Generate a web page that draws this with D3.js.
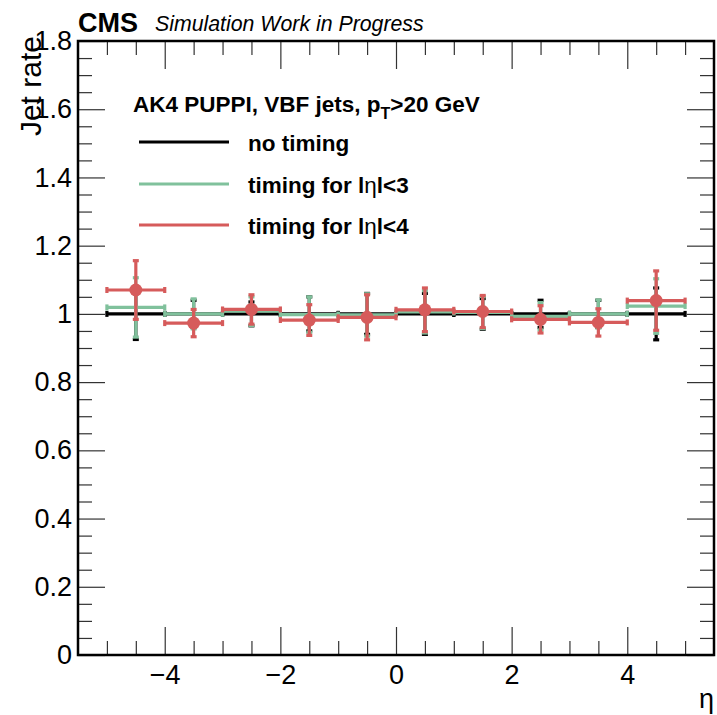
<!DOCTYPE html>
<html><head><meta charset="utf-8">
<script src="https://cdn.jsdelivr.net/npm/d3@7"></script>
<style>
body{margin:0;background:#fff;}
svg{display:block;font-family:"Liberation Sans",Arial,Helvetica,sans-serif;}
</style></head>
<body><svg id="c" width="717" height="715"></svg>
<script>
const etaCenters = [-4.5,-3.5,-2.5,-1.5,-0.5,0.5,1.5,2.5,3.5,4.5];
const binHalfWidth = 0.5;
const noTiming     = [1,1,1,1,1,1,1,1,1,1];
const noTimingErr  = [0.075,0.040,0.035,0.050,0.060,0.060,0.045,0.040,0.040,0.076];
const timing3      = [1.019,1.000,1.008,0.998,0.997,1.006,1.004,0.993,1.000,1.023];
const timing3Err   = [0.087,0.044,0.042,0.052,0.062,0.062,0.047,0.040,0.041,0.080];
const timing4      = [1.070,0.973,1.013,0.982,0.990,1.012,1.007,0.984,0.975,1.039];
const timing4Err   = [0.086,0.040,0.043,0.045,0.066,0.064,0.047,0.040,0.040,0.087];
const xTicks = [-4,-2,0,2,4];
const yTicks = [0,0.2,0.4,0.6,0.8,1,1.2,1.4,1.6,1.8];
const seriesNames = ["no timing","timing for |η|<3","timing for |η|<4"];
const seriesColors = ["#000000","#80c19c","#d65b5b"];

const svg = d3.select("#c");
const L=78,R=714,T=41,B=655;
const x = d3.scaleLinear().domain([-5.5,5.5]).range([L,R]);
const y = d3.scaleLinear().domain([0,1.8]).range([B,T]);

const xMinor = d3.range(-5.5,5.51,0.5).filter(v=>Math.abs(v%2)>1e-6 && v>-5.5+1e-6 && v<5.5-1e-6);
const yMinor = d3.range(0,1.801,0.05).filter(v=>!yTicks.some(t=>Math.abs(t-v)<1e-6));

function styleAxis(g){g.select(".domain").remove();g.selectAll("line").attr("stroke","#333").attr("stroke-width",1.2);}
const fmtX = d=> d<0 ? "\u2212"+Math.abs(d) : String(d);
// bottom
svg.append("g").attr("transform",`translate(0,${B})`).call(d3.axisBottom(x).tickValues(xTicks).tickSize(-28).tickPadding(10).tickFormat(fmtX)).call(styleAxis)
  .selectAll("text").attr("font-size",27).attr("fill","#000").attr("dy","0.71em");
svg.append("g").attr("transform",`translate(0,${B})`).call(d3.axisBottom(x).tickValues(xMinor).tickSize(-14).tickFormat("")).call(styleAxis);
// top
svg.append("g").attr("transform",`translate(0,${T})`).call(d3.axisTop(x).tickValues(xTicks).tickSize(-28).tickFormat("")).call(styleAxis);
svg.append("g").attr("transform",`translate(0,${T})`).call(d3.axisTop(x).tickValues(xMinor).tickSize(-14).tickFormat("")).call(styleAxis);
// left
svg.append("g").attr("transform",`translate(${L},0)`).call(d3.axisLeft(y).tickValues(yTicks).tickSize(-27).tickPadding(6).tickFormat(d=>String(+d.toFixed(1)))).call(styleAxis)
  .selectAll("text").attr("font-size",27).attr("fill","#000");
svg.append("g").attr("transform",`translate(${L},0)`).call(d3.axisLeft(y).tickValues(yMinor).tickSize(-14).tickFormat("")).call(styleAxis);
// right
svg.append("g").attr("transform",`translate(${R},0)`).call(d3.axisRight(y).tickValues(yTicks).tickSize(-27).tickFormat("")).call(styleAxis);
svg.append("g").attr("transform",`translate(${R},0)`).call(d3.axisRight(y).tickValues(yMinor).tickSize(-14).tickFormat("")).call(styleAxis);

// data
const series = [
  {vals:noTiming, errs:noTimingErr, color:seriesColors[0], marker:false},
  {vals:timing3, errs:timing3Err, color:seriesColors[1], marker:false},
  {vals:timing4, errs:timing4Err, color:seriesColors[2], marker:true}
];
const cap=3;
series.forEach(s=>{
  const g = svg.append("g").attr("stroke",s.color).attr("fill",s.color).attr("stroke-width",3.2);
  etaCenters.forEach((c,i)=>{
    const cx=x(c), cy=y(s.vals[i]), x0=x(c-binHalfWidth), x1=x(c+binHalfWidth);
    const yt=y(s.vals[i]+s.errs[i]), yb=y(s.vals[i]-s.errs[i]);
    g.append("line").attr("x1",x0).attr("x2",x1).attr("y1",cy).attr("y2",cy);
    g.append("line").attr("x1",cx).attr("x2",cx).attr("y1",yt).attr("y2",yb);
    g.append("line").attr("x1",x0).attr("x2",x0).attr("y1",cy-cap).attr("y2",cy+cap);
    g.append("line").attr("x1",x1).attr("x2",x1).attr("y1",cy-cap).attr("y2",cy+cap);
    g.append("line").attr("x1",cx-cap).attr("x2",cx+cap).attr("y1",yt).attr("y2",yt);
    g.append("line").attr("x1",cx-cap).attr("x2",cx+cap).attr("y1",yb).attr("y2",yb);
    if(s.marker) g.append("circle").attr("cx",cx).attr("cy",cy).attr("r",6.5).attr("stroke","none");
  });
});

// frame
svg.append("rect").attr("x",L).attr("y",T).attr("width",R-L).attr("height",B-T)
  .attr("fill","none").attr("stroke","#000").attr("stroke-width",2.5);

// titles
svg.append("text").attr("x",L).attr("y",32).attr("font-size",27).attr("font-weight","bold").text("CMS");
svg.append("text").attr("x",155).attr("y",31).attr("font-size",21.3).attr("font-style","italic").text("Simulation Work in Progress");
svg.append("text").attr("transform","translate(41,36) rotate(-90)").attr("text-anchor","end").attr("font-size",30).text("Jet rate");
svg.append("text").attr("x",714).attr("y",708).attr("text-anchor","end").attr("font-size",27).text("η");

// legend
const hdr = svg.append("text").attr("x",133).attr("y",112).attr("font-size",22.5).attr("font-weight","bold");
hdr.append("tspan").text("AK4 PUPPI, VBF jets, p");
hdr.append("tspan").attr("font-size",16).attr("dy",7).text("T");
hdr.append("tspan").attr("dy",-7).text(">20 GeV");
const legY=[142,184,225];
seriesNames.forEach((n,i)=>{
  svg.append("line").attr("x1",139).attr("x2",229).attr("y1",legY[i]).attr("y2",legY[i]).attr("stroke",seriesColors[i]).attr("stroke-width",3);
  const t = svg.append("text").attr("x",248).attr("y",legY[i]+9).attr("font-size",22.5).attr("font-weight","bold");
  const m = n.match(/^(.*)\|η\|(.*)$/);
  if(m){ t.append("tspan").text(m[1]+"l"); t.append("tspan").attr("font-weight","normal").text("η"); t.append("tspan").text("l"+m[2]); }
  else t.text(n);
});
</script></body></html>
